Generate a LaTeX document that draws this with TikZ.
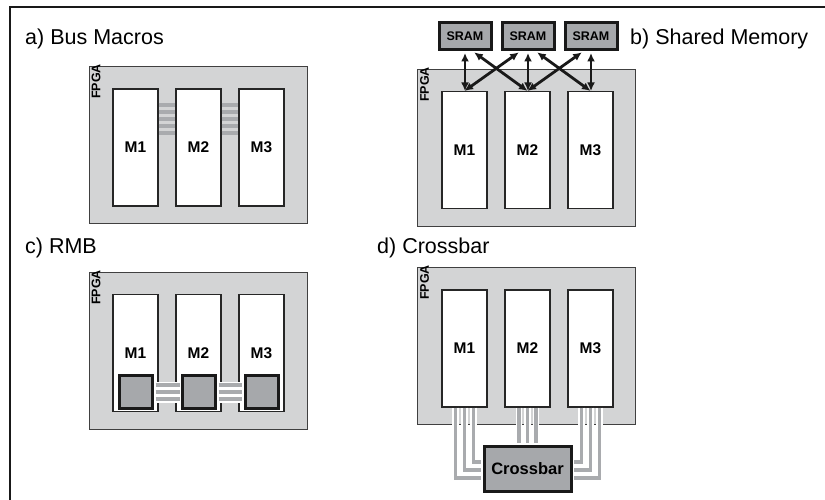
\documentclass[tikz,border=0pt]{standalone}
\usepackage{fontspec}
\setmainfont{Liberation Sans}
\usetikzlibrary{arrows.meta}
\definecolor{fpgagray}{HTML}{D3D4D5}
\definecolor{blockgray}{HTML}{A6A8AB}
\definecolor{wiregray}{HTML}{A9ABAE}

\begin{document}
\begin{tikzpicture}[x=1pt, y=-1pt,
    fpga/.style={rectangle, draw=black!75, fill=fpgagray, line width=0.9pt, minimum width=218pt, minimum height=157pt, inner sep=0pt},
    module/.style={rectangle, draw=black!85, fill=white, line width=1.1pt, minimum width=45pt, minimum height=117pt, inner sep=0pt, font=\bfseries\fontsize{15.5}{15.5}\selectfont},
    block/.style={rectangle, draw=black!90, fill=blockgray, line width=3pt, inner sep=0pt},
    sram/.style={block, minimum width=52pt, minimum height=27pt, font=\bfseries\fontsize{12.5}{12.5}\selectfont},
    rmb/.style={block, minimum width=33pt, minimum height=33pt},
    xbarbox/.style={block, minimum width=87pt, minimum height=45pt, font=\bfseries\fontsize{16.5}{16.5}\selectfont},
    fpgalabel/.style={rotate=90, anchor=north east, inner sep=0pt, font=\bfseries\fontsize{12.5}{12.5}\selectfont},
    paneltitle/.style={anchor=base west, inner sep=0pt, font=\fontsize{21.5}{21.5}\selectfont},
    arrow/.style={{Latex[length=8.5pt,width=8pt]}-{Latex[length=8.5pt,width=8pt]}, line width=2.8pt, black!90, shorten <=1.5pt},
    busline/.style={wiregray, line width=3.8pt},
    rmbline/.style={wiregray, line width=4.5pt, preaction={draw, white, line width=7pt}, shorten <=1.5pt, shorten >=1.5pt},
    wire/.style={wiregray, line width=3.6pt, preaction={draw, white, line width=6.5pt}, shorten >=1.5pt}
  ]
    \useasboundingbox (0,0) rectangle (825,500);

    % Frame
    \draw[line width=2.2pt, black!90] (825,7) -- (10,7) -- (10,500);

    % a) Bus Macros
    \node[paneltitle] (ta) at (25,45) {a) Bus Macros};
    \node[fpga] (fa) at (198,145) {};
    \node[fpgalabel] (la) at ([xshift=3pt,yshift=2pt]fa.north west) {FPGA};
    \node[module] (a1) at (135.5,147.5) {M1};
    \node[module] (a2) at (198.5,147.5) {M2};
    \node[module] (a3) at (261.5,147.5) {M3};
    \foreach \y in {105,112,119,126,133} {
        \draw[busline] (a1.east |- 0,\y) -- (a2.west |- 0,\y);
        \draw[busline] (a2.east |- 0,\y) -- (a3.west |- 0,\y);
    }

    % b) Shared Memory
    \node[paneltitle] (tb) at (630,45) {b) Shared Memory};
    \node[fpga] (fb) at (526.5,148) {};
    \node[fpgalabel] (lb) at ([xshift=3pt,yshift=2pt]fb.north west) {FPGA};
    \node[module] (b1) at (464.5,150) {M1};
    \node[module] (b2) at (527.5,150) {M2};
    \node[module] (b3) at (590.5,150) {M3};
    \node[sram] (s1) at (465,36.5) {SRAM};
    \node[sram] (s2) at (528,36.5) {SRAM};
    \node[sram] (s3) at (591,36.5) {SRAM};
    \draw[arrow] (s1) -- (s1 |- b1.north);
    \draw[arrow] (s2) -- (s2 |- b2.north);
    \draw[arrow] (s3) -- (s3 |- b3.north);
    \draw[arrow] ([xshift=8pt]s1.south) -- (b2.north);
    \draw[arrow] ([xshift=-8pt]s2.south) -- (b1.north);
    \draw[arrow] ([xshift=8pt]s2.south) -- (b3.north);
    \draw[arrow] ([xshift=-8pt]s3.south) -- (b2.north);

    % c) RMB
    \node[paneltitle] (tc) at (25,253) {c) RMB};
    \node[fpga] (fc) at (198,351) {};
    \node[fpgalabel] (lc) at ([xshift=3pt,yshift=2pt]fc.north west) {FPGA};
    \node[module] (c1) at (135.5,353) {M1};
    \node[module] (c2) at (198.5,353) {M2};
    \node[module] (c3) at (261.5,353) {M3};
    \node[rmb] (r1) at (136,391.5) {};
    \node[rmb] (r2) at (199,391.5) {};
    \node[rmb] (r3) at (261.5,391.5) {};
    \foreach \y in {385,392,399} {
        \draw[rmbline] (r1.east |- 0,\y) -- (r2.west |- 0,\y);
        \draw[rmbline] (r2.east |- 0,\y) -- (r3.west |- 0,\y);
    }

    % d) Crossbar
    \node[paneltitle] (td) at (377,253) {d) Crossbar};
    \node[fpga] (fd) at (526.5,346) {};
    \node[fpgalabel] (ld) at ([xshift=3pt,yshift=2pt]fd.north west) {FPGA};
    \node[module] (d1) at (464.5,348.5) {M1};
    \node[module] (d2) at (527.5,348.5) {M2};
    \node[module] (d3) at (590.5,348.5) {M3};
    \node[xbarbox] (xbar) at (527.5,468.5) {Crossbar};
    \draw[wire] ([xshift=-9pt]d1.south) |- (xbar.west |- 0,478);
    \draw[wire] (d1.south) |- (xbar.west |- 0,470);
    \draw[wire] ([xshift=9pt]d1.south) |- (xbar.west |- 0,462);
    \draw[wire] ([xshift=-8.5pt]d2.south) -- ([xshift=-8.5pt]xbar.north);
    \draw[wire] (d2.south) -- (xbar.north);
    \draw[wire] ([xshift=8.5pt]d2.south) -- ([xshift=8.5pt]xbar.north);
    \draw[wire] ([xshift=-9pt]d3.south) |- (xbar.east |- 0,462);
    \draw[wire] (d3.south) |- (xbar.east |- 0,470);
    \draw[wire] ([xshift=9pt]d3.south) |- (xbar.east |- 0,478);

\end{tikzpicture}
\end{document}
